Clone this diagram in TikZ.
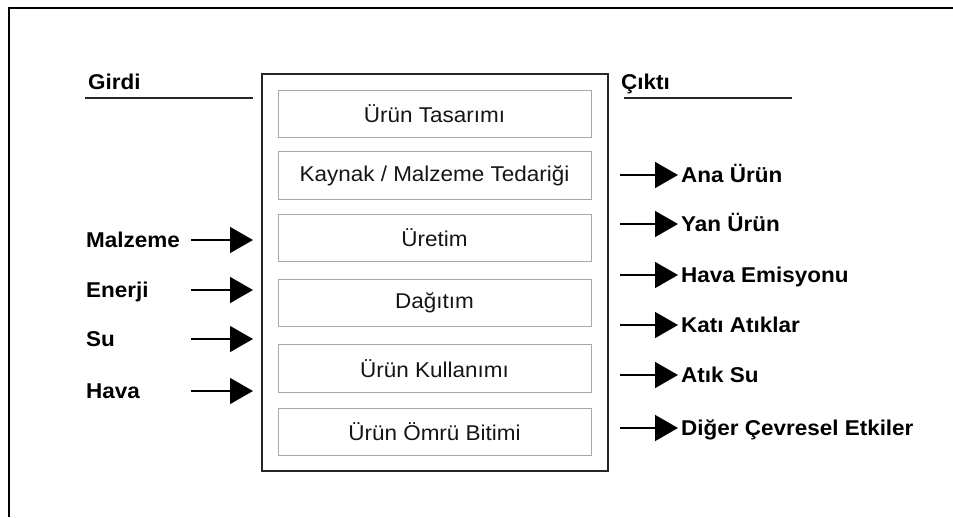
\documentclass[tikz,border=0pt]{standalone}
\usepackage{fontspec}
\setmainfont{Liberation Sans}
\newfontfamily\lblfont[FakeStretch=1.05]{Liberation Sans}
\newfontfamily\boxfont[FakeStretch=1.05]{Liberation Sans}
\usetikzlibrary{arrows.meta}
\definecolor{boxgray}{HTML}{A8A8A8}
\definecolor{txtdark}{HTML}{151515}
\tikzset{
  stage/.style={draw=boxgray, line width=1pt, minimum width=313pt, minimum height=47.5pt,
    inner sep=0pt, font=\boxfont\fontsize{21.4}{24}\selectfont, text=txtdark},
  lbl/.style={anchor=base west, inner sep=0pt, font=\lblfont\bfseries\fontsize{21.4}{24}\selectfont},
  flow/.style={line width=1.5pt, -{Triangle[length=23pt,width=26pt]}},
  rule/.style={line width=1.6pt, draw=black!85}
}
\begin{document}
\begin{tikzpicture}[x=1pt,y=-1pt]
\useasboundingbox (0,0) rectangle (953,517);
% outer frame (top and left only visible)
\draw[line width=2.6pt] (953,8) -- (9,8) -- (9,517);
% main box
\node[draw=black!85, line width=1.6pt, minimum width=346pt, minimum height=397pt, inner sep=0pt] (main) at (435,272.5) {};
% stages
\node[stage] (s1) at (434.5,114) {Ürün Tasarımı};
\node[stage] (s2) at (434.5,175.5) {Kaynak / Malzeme Tedariği};
\node[stage] (s3) at (434.5,238) {Üretim};
\node[stage] (s4) at (434.5,303) {Dağıtım};
\node[stage] (s5) at (434.5,368.5) {Ürün Kullanımı};
\node[stage] (s6) at (434.5,432) {Ürün Ömrü Bitimi};
% headers
\node[lbl] (girdi) at (88,89) {Girdi};
\coordinate (gl1) at (85,98);
\coordinate (gl2) at (253,98);
\draw[rule] (gl1) -- (gl2);
\node[lbl] (cikti) at (621,89) {Çıktı};
\coordinate (cl1) at (624,98);
\coordinate (cl2) at (792,98);
\draw[rule] (cl1) -- (cl2);
% inputs
\foreach \n/\t/\y in {i1/Malzeme/240, i2/Enerji/290, i3/Su/339, i4/Hava/391}{
  \node[lbl] (\n) at (86,\y+7.5) {\t};
  \coordinate (\n a) at (191,\y);
  \coordinate (\n b) at (253,\y);
  \draw[flow] (\n a) -- (\n b);
}
% outputs
\foreach \n/\t/\y in {o1/Ana Ürün/175, o2/Yan Ürün/224, o3/Hava Emisyonu/275, o4/Katı Atıklar/325, o5/Atık Su/375, o6/Diğer Çevresel Etkiler/428}{
  \coordinate (\n a) at (620,\y);
  \node[lbl] (\n) at (681,\y+7.7) {\t};
  \draw[flow] (\n a) -- ([xshift=-3pt]\n.west |- \n a);
}
\end{tikzpicture}
\end{document}
